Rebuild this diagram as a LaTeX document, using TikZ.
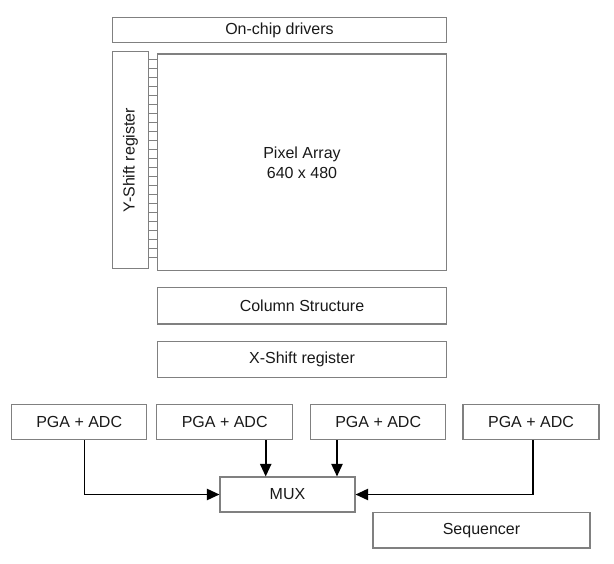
\documentclass[tikz,border=0pt]{standalone}
\usepackage{fontspec}
\setmainfont{Liberation Sans}
\usetikzlibrary{arrows.meta}
\begin{document}
\begin{tikzpicture}[x=0.75pt,y=-0.75pt,
  box/.style 2 args={draw=black!50, line width=0.8pt, inner sep=0pt,
    minimum width=#1*0.75pt, minimum height=#2*0.75pt,
    text=black!90, font=\fontsize{12pt}{15pt}\selectfont, align=center},
  tick/.style={draw=black!50, line width=0.6pt},
  arr/.style={draw=black, line width=1.2pt, -{Triangle[length=9.5pt,width=8.5pt]}}]
\useasboundingbox (0,0) rectangle (614,564);
\node[box={334.4}{25.4}] (drv) at (279.5,30) {On-chip drivers};
\node[box={36.4}{216.6}] (ysr) at (130.5,160) {};
\node[rotate=90, text=black!90, font=\fontsize{12pt}{15pt}\selectfont] (ysrt) at (ysr.center) {Y-Shift register};
\node[box={289.4}{216.7}] (pix) at (302,162.35) {Pixel Array\\640 x 480};
\node[box={289.4}{36.3}] (col) at (302,305.85) {Column Structure};
\node[box={289.4}{35.6}] (xsr) at (302,359.5) {X-Shift register};
\node[box={135}{35}] (pga1) at (79.2,422) {PGA + ADC};
\node[box={136}{35}] (pga2) at (224.7,422) {PGA + ADC};
\node[box={135}{35}] (pga3) at (378.2,422) {PGA + ADC};
\node[box={136}{35}] (pga4) at (531,422) {PGA + ADC};
\node[box={135}{35}] (mux) at (287.5,494.5) {MUX};
\node[box={217}{35.5}] (seq) at (481.5,530.25) {Sequencer};
% comb between Y-shift register and pixel array
\foreach \i in {0,...,22}{
  \draw[tick] (148.7,59.3+9*\i) -- (157.3,59.3+9*\i);
}
% connectors
\coordinate (a1) at (84.3,0);
\coordinate (a2) at (265.7,0);
\coordinate (a3) at (337,0);
\coordinate (a4) at (533,0);
\draw[arr] (pga1.south -| a1) |- (mux.west);
\draw[arr] (pga2.south -| a2) -- (mux.north -| a2);
\draw[arr] (pga3.south -| a3) -- (mux.north -| a3);
\draw[arr] (pga4.south -| a4) |- (mux.east);
\end{tikzpicture}
\end{document}
